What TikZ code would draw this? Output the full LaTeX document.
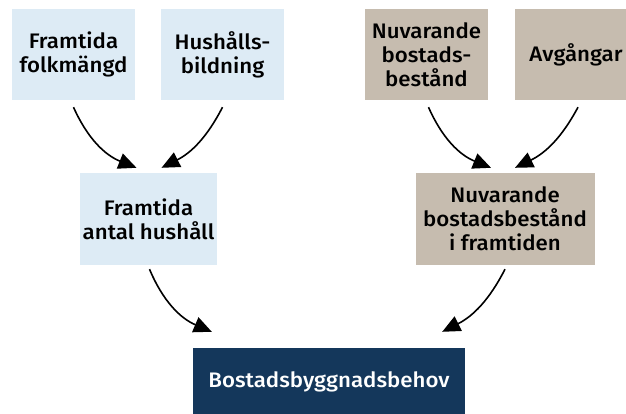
\documentclass[tikz,border=0pt]{standalone}
\usepackage{fontspec}
\setmainfont{Fira Sans}[UprightFont={* Medium}, FakeStretch=1.06]
\usetikzlibrary{positioning,arrows.meta}
\definecolor{hushcol}{HTML}{DDEBF5}
\definecolor{bestcol}{HTML}{C6BCAF}
\definecolor{behovcol}{HTML}{14375B}

\begin{document}
\begin{tikzpicture}[
   x=1pt,y=1pt,
   font=\fontsize{21}{24}\selectfont,
   box/.style={fill=#1,minimum width=123pt,minimum height=91pt,inner sep=1pt,align=center},
   flow/.style={-{Triangle[length=18pt,width=16pt]},line width=1.6pt},
]
\useasboundingbox (0,0) rectangle (626,-414);

% inputs
\node[box=hushcol] (folk) at (73.5,-54.5) {Framtida\\folkmängd};
\node[box=hushcol] (hush) at (222.5,-54.5) {Hushålls-\\bildning};
\node[box=bestcol] (nuv)  at (426.5,-54.5) {Nuvarande\\bostads-\\bestånd};
\node[box=bestcol] (avg)  at (576,-54.5) {Avgångar};

% middle
\node[box=hushcol, minimum width=137pt, minimum height=92pt] (antal) at (148.5,-219) {Framtida\\antal hushåll};
\node[box=bestcol, minimum width=179pt, minimum height=92pt] (fram)  at (505,-219) {Nuvarande\\bostadsbestånd\\i framtiden};

% result
\node[box=behovcol, text=white, minimum width=272pt, minimum height=68pt] (behov) at (329,-382) {Bostadsbyggnadsbehov};

% arrows
\draw[flow] ([yshift=-7pt]folk.south) to[bend right=22] ([xshift=-12pt,yshift=5pt]antal.north);
\draw[flow] ([yshift=-7pt]hush.south) to[bend left=18]  ([xshift=13pt,yshift=5pt]antal.north);
\draw[flow] ([xshift=2pt,yshift=-7pt]nuv.south) to[bend right=22] ([xshift=-14pt,yshift=5pt]fram.north);
\draw[flow] ([xshift=2pt,yshift=-7pt]avg.south) to[bend left=18]  ([xshift=10pt,yshift=5pt]fram.north);
\draw[flow] ([xshift=1pt,yshift=-4pt]antal.south) to[bend right=22] ([xshift=19pt,yshift=16pt]behov.north west);
\draw[flow] ([yshift=-4pt]fram.south) to[bend left=18]  ([xshift=-23pt,yshift=16pt]behov.north east);

\end{tikzpicture}
\end{document}
